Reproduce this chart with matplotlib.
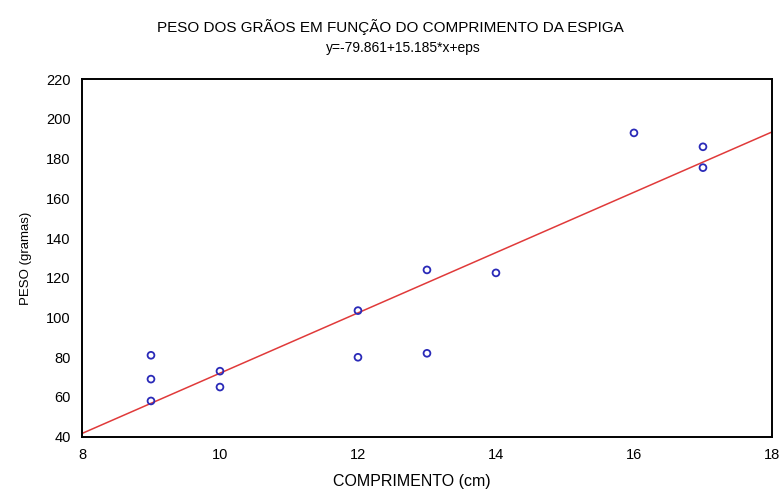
import matplotlib
import numpy as np

matplotlib.use("Agg")
import matplotlib.pyplot as plt

# data
comprimento = [9, 9, 9, 10, 10, 12, 12, 13, 13, 14, 16, 17, 17]
peso = [81, 69, 58, 73, 65, 103.5, 80, 82, 124, 122.5, 193, 186, 175.5]
b0, b1 = -79.861, 15.185

plt.rcParams["font.family"] = ["Liberation Sans", "DejaVu Sans"]

fig = plt.figure(figsize=(7.8, 4.94), dpi=100)
ax = fig.add_axes([0.1051, 0.1160, 0.8846, 0.7235])

xs = np.array([8, 18])
ax.plot(xs, b0 + b1 * xs, color="#e03a3a", lw=1.1, zorder=2)
ax.scatter(comprimento, peso, s=24, facecolors="none", edgecolors="#2a2ab8",
           linewidths=1.3, zorder=3)

ax.set_xlim(8, 18)
ax.set_ylim(40, 220)
ax.set_xticks(range(8, 19, 2))
ax.set_yticks(range(40, 221, 20))
ax.tick_params(length=0, labelsize=10.5, pad=8)
for s in ax.spines.values():
    s.set_linewidth(1.4)

ax.set_xlabel("COMPRIMENTO (cm)", fontsize=11.5, labelpad=10)
ax.xaxis.set_label_coords(0.478, -0.105)
ax.set_ylabel("PESO (gramas)", fontsize=9.5, labelpad=10)
ax.yaxis.set_label_coords(-0.072, 0.5)
fig.text(0.5, 0.945, "PESO DOS GRÃOS EM FUNÇÃO DO COMPRIMENTO DA ESPIGA",
         ha="center", va="center", fontsize=11)
fig.text(0.517, 0.903, "y=-79.861+15.185*x+eps", ha="center", va="center",
         fontsize=10)

fig.savefig("out.png", dpi=100)
